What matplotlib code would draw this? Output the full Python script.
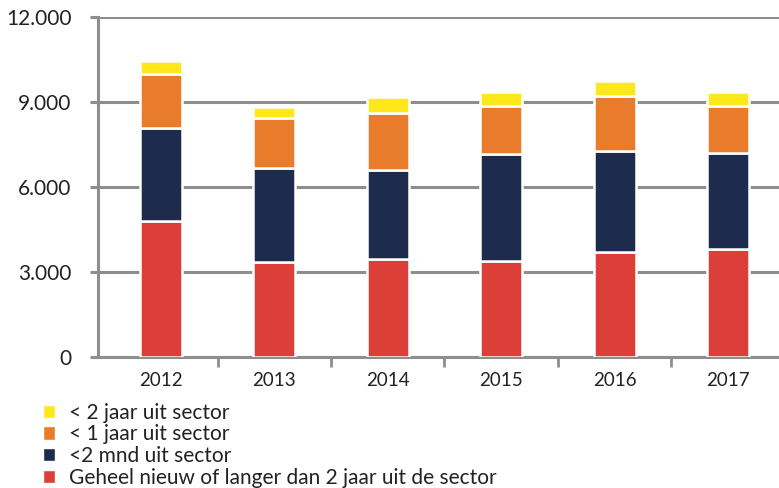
import matplotlib.pyplot as plt
from matplotlib.patches import Patch
from matplotlib.ticker import FuncFormatter

plt.rcParams['font.family'] = ['Lato', 'DejaVu Sans']

# data
years = ['2012', '2013', '2014', '2015', '2016', '2017']
nieuw = [4800, 3370, 3460, 3380, 3720, 3800]
mnd2 = [3300, 3300, 3130, 3800, 3550, 3390]
jaar1 = [1900, 1780, 2030, 1690, 1950, 1680]
jaar2 = [450, 380, 550, 470, 530, 470]

labels = ['Geheel nieuw of langer dan 2 jaar uit de sector',
          '<2 mnd uit sector',
          '< 1 jaar uit sector',
          '< 2 jaar uit sector']
colors = ['#DC3F38', '#1D2B4D', '#E87C2B', '#FFE81A']
grey = '#8E8E8E'

figure = plt.figure(figsize=(7.79, 4.88), dpi=100)
axes = figure.add_axes([0.1258, 0.2684, 0.8742, 0.6966])

x = list(range(len(years)))
bottom = [0] * len(years)
for serie, col in zip([nieuw, mnd2, jaar1, jaar2], colors):
    axes.bar(x, serie, bottom=bottom, width=0.37, color=col,
             edgecolor='white', linewidth=1.8, zorder=3)
    bottom = [b + v for b, v in zip(bottom, serie)]

axes.set_xlim(-0.555, 5.45)
axes.set_ylim(0, 12000)
axes.set_yticks([0, 3000, 6000, 9000, 12000])
axes.yaxis.set_major_formatter(FuncFormatter(lambda v, p: '{:,.0f}'.format(v).replace(',', '.')))
axes.grid(axis='y', color=grey, linewidth=2.2, zorder=0)

axes.set_xticks(x)
axes.set_xticklabels(years)
axes.set_xticks([0.5, 1.5, 2.5, 3.5, 4.5], minor=True)
axes.tick_params(axis='x', which='major', length=0, pad=11, labelsize=13.5, colors='#222222')
axes.tick_params(axis='x', which='minor', length=7, width=2, color=grey, direction='out')
axes.tick_params(axis='y', length=6, width=2.2, color=grey, pad=13, labelsize=15, labelcolor='#222222')

for s in ['top', 'right']:
    axes.spines[s].set_visible(False)
for s in ['left', 'bottom']:
    axes.spines[s].set_color(grey)
    axes.spines[s].set_linewidth(2.2)

handles = [Patch(facecolor=c, edgecolor='white') for c in colors]
figure.legend(handles[::-1], labels[::-1], loc='upper left',
              bbox_to_anchor=(0.055, 0.175), frameon=False, fontsize=15,
              handlelength=0.6, handleheight=0.6, handletextpad=0.65,
              labelspacing=0.08, borderpad=0, borderaxespad=0,
              labelcolor='#222222')

figure.savefig('out.png', dpi=100)
